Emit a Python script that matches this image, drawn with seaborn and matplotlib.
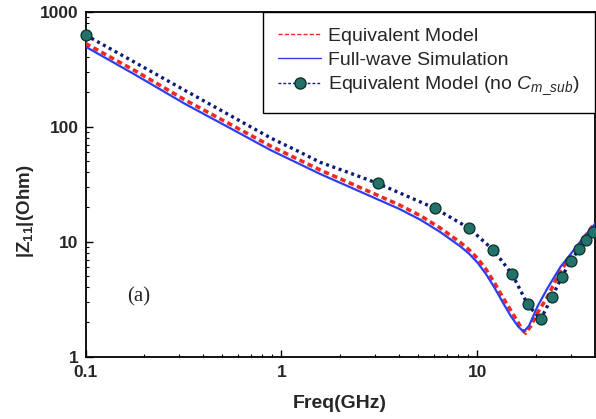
import matplotlib
matplotlib.use("Agg")
import matplotlib.pyplot as plt
import seaborn as sns
import numpy as np
import pandas as pd
from matplotlib.lines import Line2D
from matplotlib.ticker import FixedLocator, NullFormatter

# ---------------- data ----------------
# Full-wave simulation
fw_freq = [0.1, 0.18, 0.32, 0.54, 0.88, 1.58, 2.85, 4.0, 5.14, 6.5, 8.24, 9.1,
           10.06, 11.1, 12.2, 13.5, 14.8, 16.2, 17.3, 18.4, 20.3, 23.0, 26.7,
           33.0, 40.0]
fw_z = [497, 282, 159, 98.4, 62.7, 38.8, 24.9, 19.3, 15.5, 12.1, 9.06, 7.86,
        6.56, 5.23, 4.05, 2.98, 2.28, 1.83, 1.65, 1.85, 2.72, 4.0, 6.07,
        9.55, 14.3]

# Equivalent model
eq_freq = [0.1, 0.18, 0.32, 0.54, 0.88, 1.58, 2.85, 4.0, 5.14, 6.5, 8.24, 9.1,
           10.06, 11.1, 12.2, 13.5, 14.8, 16.2, 17.0, 17.7, 18.8, 20.5, 22.9,
           26.7, 33.0, 40.0]
eq_z = [530, 305, 172, 106.5, 68, 42, 27, 20.9, 16.8, 13.1, 9.8, 8.5,
        7.15, 5.75, 4.45, 3.3, 2.55, 1.98, 1.72, 1.6, 1.85, 2.45, 3.33,
        5.6, 9.3, 14.6]

# Equivalent model without C_m_sub (dotted line)
nc_freq = [0.1, 0.18, 0.32, 0.54, 0.88, 1.2, 1.58, 2.2, 3.1, 6.1, 9.1, 12.1,
           15.1, 18.1, 21.1, 24.1, 27.1, 30.1, 33.1, 36.1, 39.1, 40.0]
nc_z = [627, 360, 208, 127, 80, 62, 49, 40, 32.2, 19.5, 13.1, 8.47,
        5.21, 2.86, 2.11, 3.29, 4.97, 6.79, 8.59, 10.4, 12.2, 12.7]

# markers of the dotted series
mk_freq = [0.1, 3.1, 6.1, 9.1, 12.1, 15.1, 18.1, 21.1, 24.1, 27.1, 30.1,
           33.1, 36.1, 39.1]
mk_z = [627, 32.2, 19.5, 13.1, 8.47, 5.21, 2.86, 2.11, 3.29, 4.97, 6.79,
        8.59, 10.4, 12.2]

legend_labels = ["Equivalent Model", "Full-wave Simulation",
                 r"Equivalent Model (no $C_{m\_sub}$)"]
x_ticks = [0.1, 1, 10]
x_tick_labels = ["0.1", "1", "10"]
y_ticks = [1, 10, 100, 1000]
y_tick_labels = ["1", "10", "100", "1000"]

# ---------------- style ----------------
sns.set_style("ticks")
plt.rcParams["font.family"] = ["Liberation Sans", "DejaVu Sans"]
plt.rcParams["mathtext.fontset"] = "custom"
plt.rcParams["mathtext.rm"] = "Liberation Sans"
plt.rcParams["mathtext.it"] = "Liberation Sans:italic"
plt.rcParams["mathtext.bf"] = "Liberation Sans:bold"

RED = "#f02a22"
BLUE = "#2f3ff0"
NAVY = "#0c1a78"
TEAL = "#237269"

fig = plt.figure(figsize=(5.96, 4.19), dpi=100)
W, H = 596, 419
x0, x1, y0, y1 = 85.5, 595, 11.7, 356.7
ax = fig.add_axes([x0 / W, 1 - y1 / H, (x1 - x0) / W, (y1 - y0) / H])

sns.lineplot(x=nc_freq, y=nc_z, ax=ax, color=NAVY, lw=2.4,
             linestyle=(0, (0.9, 1.1)), estimator=None, sort=False,
             zorder=2)
sns.lineplot(x=eq_freq, y=eq_z, ax=ax, color=RED, lw=2.6,
             linestyle=(0, (1.5, 1.0)), estimator=None, sort=False, zorder=3)
sns.lineplot(x=fw_freq, y=fw_z, ax=ax, color=BLUE, lw=1.6,
             estimator=None, sort=False, zorder=4)
sns.scatterplot(x=mk_freq, y=mk_z, ax=ax, s=62, color=TEAL,
                edgecolor="#0a302b", linewidth=0.9, zorder=5, clip_on=False)

ax.set_xscale("log")
ax.set_yscale("log")
ax.set_xlim(0.1, 40)
ax.set_ylim(1, 1000)

ax.xaxis.set_major_locator(FixedLocator(x_ticks))
ax.set_xticklabels(x_tick_labels)
ax.yaxis.set_major_locator(FixedLocator(y_ticks))
ax.set_yticklabels(y_tick_labels)
xminor = [m * d for d in (0.1, 1) for m in range(2, 10)] + [20, 30]
yminor = [m * d for d in (1, 10, 100) for m in range(2, 10)]
ax.xaxis.set_minor_locator(FixedLocator(xminor))
ax.yaxis.set_minor_locator(FixedLocator(yminor))
ax.xaxis.set_minor_formatter(NullFormatter())
ax.yaxis.set_minor_formatter(NullFormatter())

ax.tick_params(which="major", direction="in", length=5, width=1.0,
               labelsize=12.5, top=False, right=False, color="black")
ax.tick_params(which="minor", direction="in", length=2.5, width=0.8,
               top=False, right=False, color="black")
ax.tick_params(axis="x", which="major", pad=6)
ax.tick_params(axis="y", which="major", pad=5)
for lab in ax.get_xticklabels() + ax.get_yticklabels():
    lab.set_fontweight("bold")

for sp in ax.spines.values():
    sp.set_visible(True)
    sp.set_linewidth(1.3)
    sp.set_color("black")

ax.set_xlabel("Freq(GHz)", fontsize=14, fontweight="bold", labelpad=11)
ax.set_ylabel("")
fig.text(26 / W, 1 - 211 / H, r"$\mathbf{|Z_{11}|(Ohm)}$", rotation=90,
         ha="center", va="center", fontsize=13.5)

ax.text((139 - x0) / (x1 - x0), (y1 - 297) / (y1 - y0), "(a)",
        transform=ax.transAxes, ha="center", va="center", fontsize=15,
        family=["Liberation Serif", "DejaVu Serif"])

handles = [
    Line2D([], [], color=RED, lw=1.0, linestyle=(0, (3, 1.5))),
    Line2D([], [], color=BLUE, lw=1.0),
    Line2D([], [], color=NAVY, lw=1.0, linestyle=(0, (2, 1.5)),
           marker="o", markersize=8, markerfacecolor=TEAL,
           markeredgecolor="#0a302b"),
]
leg = ax.legend(handles, legend_labels, loc="upper right",
                bbox_to_anchor=(1, 1), borderaxespad=0, fontsize=14,
                handlelength=2.2, handletextpad=0.35, labelspacing=0.32,
                borderpad=0.8, frameon=True, fancybox=False, framealpha=1)
leg.get_frame().set_edgecolor("black")
leg.get_frame().set_linewidth(1.0)

fig.savefig("out.png", dpi=100)
